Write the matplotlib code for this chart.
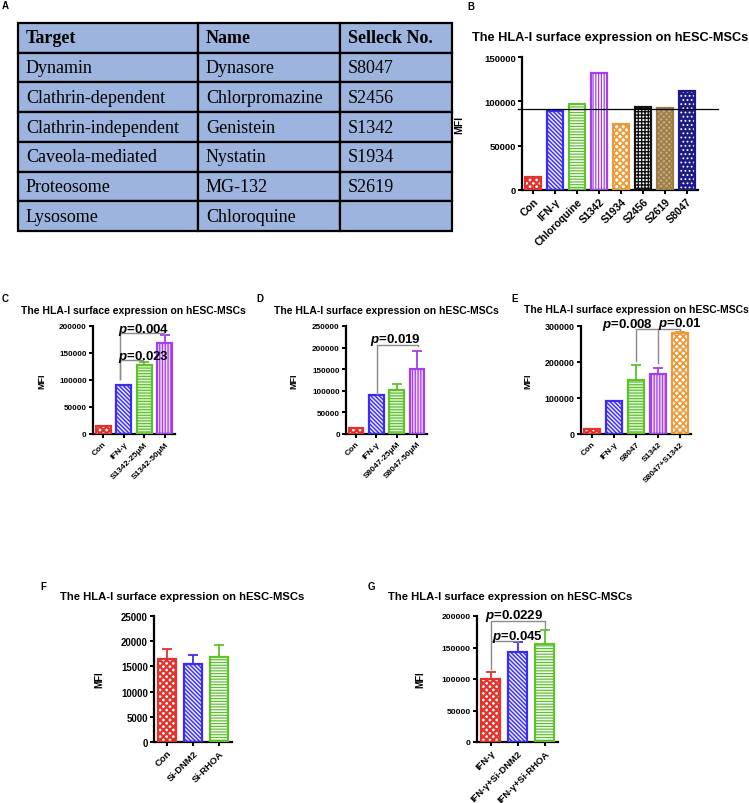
import matplotlib
matplotlib.use('Agg')
import matplotlib.pyplot as plt
import numpy as np

plt.rcParams['font.family'] = ['Liberation Sans', 'DejaVu Sans']
plt.rcParams['font.weight'] = 'bold'
plt.rcParams['hatch.linewidth'] = 0.8
plt.rcParams['mathtext.fontset'] = 'custom'
plt.rcParams['mathtext.it'] = 'Liberation Sans:italic:bold'
plt.rcParams['mathtext.rm'] = 'Liberation Sans:bold'

# ---------------- data ----------------
table_header = ['Target', 'Name', 'Selleck No.']
table_target = ['Dynamin', 'Clathrin-dependent', 'Clathrin-independent',
                'Caveola-mediated', 'Proteosome', 'Lysosome']
table_name = ['Dynasore', 'Chlorpromazine', 'Genistein', 'Nystatin', 'MG-132', 'Chloroquine']
table_selleck = ['S8047', 'S2456', 'S1342', 'S1934', 'S2619', '']

title = 'The HLA-I surface expression on hESC-MSCs'

b_groups = ['Con', 'IFN-γ', 'Chloroquine', 'S1342', 'S1934', 'S2456', 'S2619', 'S8047']
b_mfi = [15000, 89000, 96500, 132000, 75000, 94000, 92500, 112000]
b_ref = 91000
b_yticks = [0, 50000, 100000, 150000]

c_groups = ['Con', 'IFN-γ', 'S1342-25μM', 'S1342-50μM']
c_mfi = [14000, 90000, 127000, 168000]
c_err = [0, 0, 7000, 16000]
c_yticks = [0, 50000, 100000, 150000, 200000]

d_groups = ['Con', 'IFN-γ', 'S8047-25μM', 'S8047-50μM']
d_mfi = [14500, 90000, 103000, 151500]
d_err = [0, 0, 13000, 40000]
d_yticks = [0, 50000, 100000, 150000, 200000, 250000]

e_groups = ['Con', 'IFN-γ', 'S8047', 'S1342', 'S8047+S1342']
e_mfi = [14500, 90500, 150500, 168000, 281500]
e_err = [0, 0, 41500, 15000, 2500]
e_yticks = [0, 100000, 200000, 300000]

f_groups = ['Con', 'Si-DNM2', 'Si-RHOA']
f_mfi = [16400, 15550, 16900]
f_err = [2050, 1700, 2300]
f_yticks = [0, 5000, 10000, 15000, 20000, 25000]

g_groups = ['IFN-γ', 'IFN-γ+Si-DNM2', 'IFN-γ+Si-RHOA']
g_mfi = [99500, 143400, 156100]
g_err = [12100, 15300, 21700]
g_yticks = [0, 50000, 100000, 150000, 200000]

# ---------------- styles ----------------
RED, BLUE, GREEN, PURPLE = '#e2332c', '#3a2cf5', '#5cc42a', '#a63ef0'
ORANGE, BLACK, BROWN, NAVY = '#ec9a3a', '#111111', '#9a7a45', '#1c1a86'
ST = {
    'red': dict(fill='white', hc=RED, hatch='xxxxx', edge=RED, hlw=1.6),
    'blue': dict(fill='#e8e8ff', hc=BLUE, hatch='\\\\\\\\\\\\\\\\', edge=BLUE, hlw=1.0),
    'green': dict(fill='white', hc=GREEN, hatch='------', edge=GREEN, hlw=0.9),
    'lgreen': dict(fill='#e4f4da', hc=GREEN, hatch='------', edge=GREEN, hlw=0.9),
    'purple': dict(fill='white', hc=PURPLE, hatch='||||||', edge=PURPLE, hlw=0.9),
    'lpurple': dict(fill='#ecd8fb', hc=PURPLE, hatch='||||||', edge=PURPLE, hlw=0.9),
    'orange': dict(fill='white', hc=ORANGE, hatch='xxxxx', edge=ORANGE, hlw=1.3),
    'black': dict(fill='white', hc=BLACK, hatch='+++++', edge=BLACK, hlw=1.0),
    'brown': dict(fill='#c4a878', hc=BROWN, hatch='xxxxxx', edge=BROWN, hlw=1.0),
    'navy': dict(fill=NAVY, hc='white', hatch='....', edge=NAVY, hlw=0.8),
}

W, H = 749, 804
fig = plt.figure(figsize=(W / 100, H / 100), dpi=100)


def box(l, t, r, b):
    return [l / W, 1 - b / H, (r - l) / W, (b - t) / H]


def ftext(x, y, s, size, ha='left', **kw):
    fig.text(x / W, 1 - y / H, s, fontsize=size, ha=ha, va='center',
             fontweight='bold', **kw)


def bar_panel(rect, groups, vals, errs, styles, yticks, ytick_fs, xtick_fs,
              mfi_x, mfi_fs):
    ax = fig.add_axes(rect)
    x = np.arange(len(groups))
    for i, (v, s) in enumerate(zip(vals, styles)):
        st = ST[s]
        with plt.rc_context({'hatch.linewidth': st['hlw']}):
            ax.bar(x[i], v, width=0.72, color=st['fill'], edgecolor=st['hc'],
                   hatch=st['hatch'], linewidth=0, zorder=2)
        ax.bar(x[i], v, width=0.72, color='none', edgecolor=st['edge'],
               linewidth=1.6, zorder=3)
        if errs is not None and errs[i] > 0:
            ax.errorbar(x[i], v, yerr=[[0], [errs[i]]], fmt='none',
                        ecolor=st['edge'], elinewidth=1.3, capsize=3.5,
                        capthick=1.3, zorder=1, clip_on=False)
    ax.set_xlim(-0.5, len(groups) - 0.5)
    ax.set_ylim(yticks[0], yticks[-1])
    ax.set_yticks(yticks)
    ax.set_yticklabels([str(t) for t in yticks], fontsize=ytick_fs, fontweight='bold')
    ax.set_xticks(x)
    ax.set_xticklabels(groups, rotation=45, ha='right', va='top',
                       rotation_mode='anchor', fontsize=xtick_fs, fontweight='bold')
    for sp in ['top', 'right']:
        ax.spines[sp].set_visible(False)
    for sp in ['left', 'bottom']:
        ax.spines[sp].set_linewidth(1.6)
    ax.tick_params(axis='both', width=1.4, length=3, pad=1.5)
    ax.set_ylabel('MFI', fontsize=mfi_fs, fontweight='bold')
    ax.yaxis.set_label_coords(mfi_x, 0.5)
    return ax


def bracket(ax, x1, x2, y, y1, y2, color='#8a8a8a'):
    ax.plot([x1, x1, x2, x2], [y1, y, y, y2], color=color, lw=1.0,
            clip_on=False, zorder=4)


def ptext(ax, x, y, s, size=9.5):
    ax.text(x, y, r'$p$=' + s, fontsize=size, fontweight='bold', ha='center',
            va='baseline', clip_on=False, zorder=5)


# ---------------- panel A (table) ----------------
ftext(2, 6, 'A', 7)
axA = fig.add_axes(box(18, 24, 452, 232))
axA.axis('off')
colw = [180, 142, 112]
cells = [table_header] + [list(r) for r in zip(table_target, table_name, table_selleck)]
tbl = axA.table(cellText=cells, colWidths=[c / sum(colw) for c in colw],
                cellLoc='left', bbox=[0, 0, 1, 1])
tbl.auto_set_font_size(False)
for (r, c), cell in tbl.get_celld().items():
    cell.set_facecolor('#9db4de')
    cell.set_edgecolor('black')
    cell.set_linewidth(1.6)
    cell.PAD = 8 / colw[c]
    t = cell.get_text()
    t.set_fontfamily('Liberation Serif')
    t.set_fontsize(13)
    t.set_fontweight('bold' if r == 0 else 'normal')

# ---------------- panel B ----------------
ftext(467, 7, 'B', 7)
ftext(610, 38, title, 9.2, ha='center')
axB = bar_panel(box(522, 58, 698, 191), b_groups, b_mfi, None,
                ['red', 'blue', 'green', 'purple', 'orange', 'black', 'brown', 'navy'],
                b_yticks, 6.8, 7.6, -0.33, 7.5)
axB.plot([-0.68, 8.4], [b_ref, b_ref], color='black', lw=0.9, clip_on=False, zorder=4)

# ---------------- panel C ----------------
ftext(2, 299, 'C', 7)
ftext(133, 311, title, 7.5, ha='center')
axC = bar_panel(box(93, 327, 175, 435), c_groups, c_mfi, c_err,
                ['red', 'blue', 'lgreen', 'lpurple'], c_yticks, 5.9, 6.0, -0.57, 6.5)
bracket(axC, 0.8, 2.98, 187000, 102000, 184000)
bracket(axC, 0.8, 1.95, 137000, 102000, 134000)
ptext(axC, 1.98, 189500, '0.004')
ptext(axC, 1.98, 139500, '0.023')

# ---------------- panel D ----------------
ftext(256, 299, 'D', 7)
ftext(386, 311, title, 7.5, ha='center')
axD = bar_panel(box(346, 327, 427, 435), d_groups, d_mfi, d_err,
                ['red', 'blue', 'lgreen', 'lpurple'], d_yticks, 5.9, 6.0, -0.59, 6.5)
bracket(axD, 1.03, 3.05, 206700, 92600, 203000)
ptext(axD, 1.95, 212000, '0.019')

# ---------------- panel E ----------------
ftext(511, 299, 'E', 7)
ftext(636, 310, title, 7.5, ha='center')
axE = bar_panel(box(581, 327, 691, 435), e_groups, e_mfi, e_err,
                ['red', 'blue', 'lgreen', 'lpurple', 'orange'], e_yticks, 6.4, 6.0, -0.44, 6.5)
bracket(axE, 2, 4, 291700, 203600, 288000)
bracket(axE, 3, 3, 291700, 197000, 291700)
ptext(axE, 1.62, 297000, '0.008')
ptext(axE, 4.0, 300000, '0.01')

# ---------------- panel F ----------------
ftext(40, 587, 'F', 7)
ftext(182, 597, title, 8.1, ha='center')
bar_panel(box(154, 617, 232, 743), f_groups, f_mfi, f_err,
          ['red', 'blue', 'green'], f_yticks, 6.9, 6.8, -0.64, 7)

# ---------------- panel G ----------------
ftext(368, 587, 'G', 7)
ftext(510, 597, title, 8.1, ha='center')
axG = bar_panel(box(477, 617, 558, 743), g_groups, g_mfi, g_err,
                ['red', 'blue', 'green'], g_yticks, 6.1, 6.8, -0.64, 7)
bracket(axG, 0, 2, 192500, 116000, 180000)
bracket(axG, 0.05, 1, 160000, 160000, 159000)
ptext(axG, 0.88, 196500, '0.0229')
ptext(axG, 1.0, 163500, '0.045')

fig.savefig('out.png', dpi=100)
